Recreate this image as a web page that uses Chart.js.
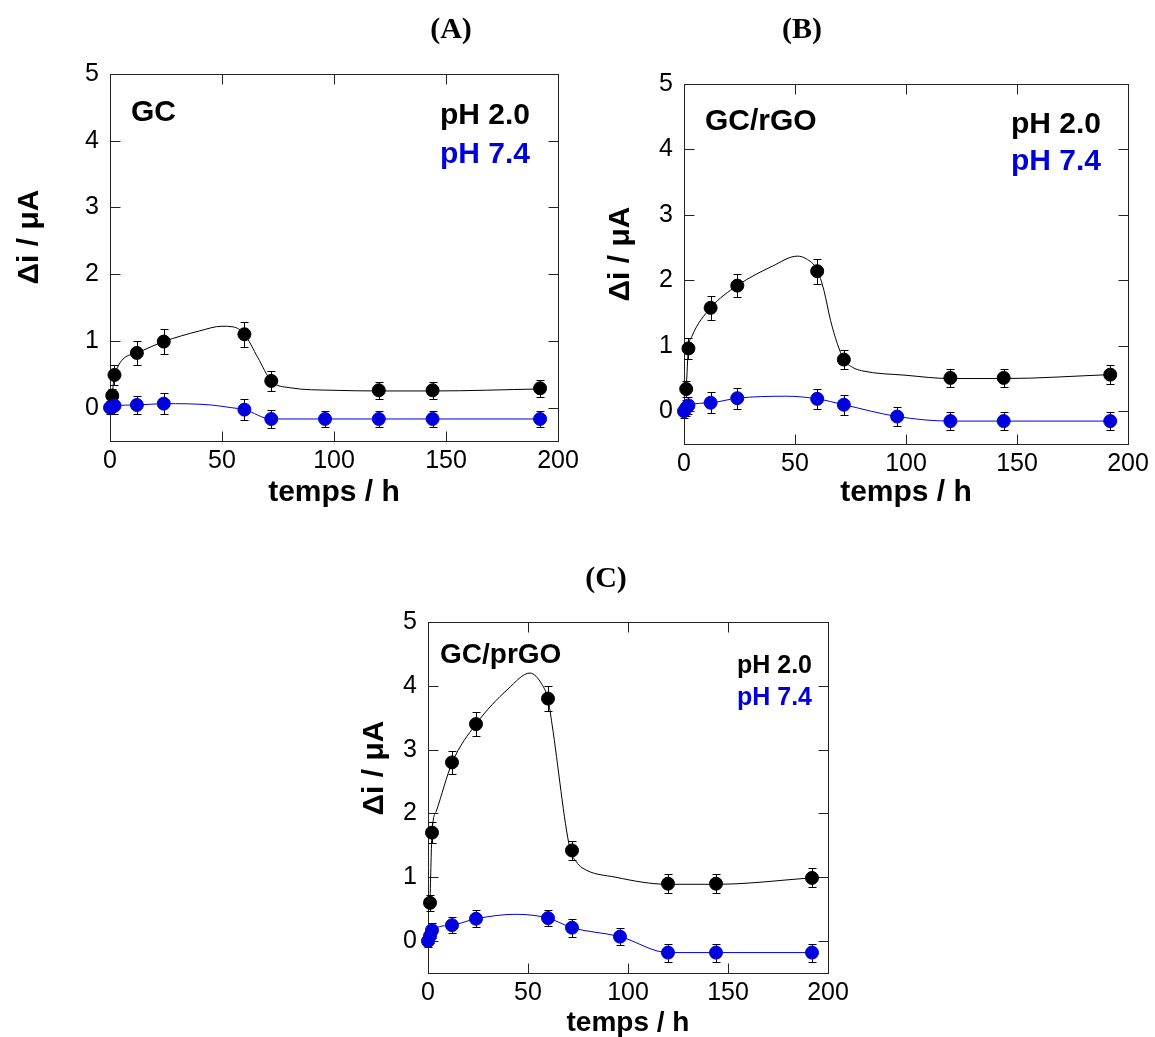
<!DOCTYPE html>
<html>
<head>
<meta charset="utf-8">
<script src="https://cdn.jsdelivr.net/npm/chart.js@4.4.1/dist/chart.umd.min.js"></script>
<style>
html,body{margin:0;padding:0;background:#fff;}
body{width:1155px;height:1037px;position:relative;overflow:hidden;}
.panel{position:absolute;}
canvas{display:block;}
</style>
</head>
<body>
<div class="panel" style="left:0px;top:0px;width:600px;height:520px"><canvas id="cA" width="600" height="520"></canvas></div>
<div class="panel" style="left:600px;top:0px;width:555px;height:520px"><canvas id="cB" width="555" height="520"></canvas></div>
<div class="panel" style="left:330px;top:540px;width:540px;height:497px"><canvas id="cC" width="540" height="497"></canvas></div>
<script>
// ---------- data ----------
const hoursPH2  = [1, 2, 12, 24, 60, 72, 120, 144, 192];
const hoursPH74 = [0, 1, 2, 12, 24, 60, 72, 96, 120, 144, 192];
const xTickValues = [0, 50, 100, 150, 200];
const yTickValues = [0, 1, 2, 3, 4, 5];

// (A) GC
const gcPH2     = [0.18, 0.49, 0.82, 0.99, 1.10, 0.40, 0.26, 0.26, 0.29];
const gcPH2Err  = [0.10, 0.15, 0.18, 0.19, 0.19, 0.15, 0.13, 0.13, 0.13];
const gcPH74    = [0.00, 0.01, 0.03, 0.04, 0.06, -0.03, -0.17, -0.17, -0.17, -0.17, -0.17];
const gcPH74Err = [0.10, 0.11, 0.12, 0.13, 0.16, 0.16, 0.13, 0.12, 0.12, 0.12, 0.12];
const gcFitPH2X  = [1, 2, 12, 24, 40, 50, 55, 60, 66, 72, 80, 100, 120, 144, 192];
const gcFitPH2Y  = [0.18, 0.49, 0.82, 0.99, 1.15, 1.22, 1.21, 1.10, 0.75, 0.40, 0.30, 0.26, 0.25, 0.25, 0.28];
const gcFitPH74X = [0, 2, 12, 24, 45, 54, 60, 72, 96, 120, 144, 192];
const gcFitPH74Y = [0.00, 0.03, 0.04, 0.06, 0.04, 0.00, -0.03, -0.17, -0.17, -0.17, -0.17, -0.17];

// (B) GC/rGO
const rgoPH2     = [0.34, 0.96, 1.58, 1.92, 2.14, 0.79, 0.51, 0.51, 0.56];
const rgoPH2Err  = [0.12, 0.16, 0.18, 0.18, 0.19, 0.15, 0.14, 0.14, 0.14];
const rgoPH74    = [0.00, 0.05, 0.09, 0.13, 0.20, 0.19, 0.10, -0.08, -0.15, -0.15, -0.15];
const rgoPH74Err = [0.10, 0.12, 0.13, 0.16, 0.16, 0.15, 0.15, 0.14, 0.14, 0.14, 0.14];
const rgoFitPH2X  = [1, 2, 3.5, 12, 24, 40, 51, 55, 60, 63, 66, 69, 72, 76, 80, 100, 120, 144, 192];
const rgoFitPH2Y  = [0.34, 0.96, 1.14, 1.58, 1.92, 2.22, 2.37, 2.33, 2.16, 1.85, 1.39, 1.04, 0.79, 0.67, 0.62, 0.55, 0.50, 0.50, 0.56];
const rgoFitPH74X = [0, 2, 12, 24, 46, 60, 72, 96, 120, 144, 192];
const rgoFitPH74Y = [0.00, 0.09, 0.13, 0.20, 0.23, 0.19, 0.10, -0.08, -0.15, -0.15, -0.15];

// (C) GC/prGO
const prgoPH2     = [0.60, 1.70, 2.80, 3.40, 3.80, 1.42, 0.90, 0.90, 0.99];
const prgoPH2Err  = [0.13, 0.16, 0.18, 0.19, 0.20, 0.15, 0.15, 0.15, 0.15];
const prgoPH74    = [0.00, 0.08, 0.17, 0.25, 0.35, 0.36, 0.21, 0.07, -0.18, -0.18, -0.18];
const prgoPH74Err = [0.10, 0.11, 0.12, 0.12, 0.13, 0.13, 0.14, 0.13, 0.14, 0.14, 0.14];
const prgoFitPH2X  = [1, 2, 4.2, 12, 24, 40, 51, 57, 60, 62, 71, 74, 77, 94, 120, 144, 192];
const prgoFitPH2Y  = [0.60, 1.70, 2.04, 2.79, 3.40, 3.95, 4.20, 4.02, 3.79, 3.40, 1.44, 1.25, 1.15, 1.00, 0.89, 0.89, 0.99];
const prgoFitPH74X = [0, 1, 2, 12, 24, 44, 60, 72, 96, 120, 144, 192];
const prgoFitPH74Y = [0.00, 0.08, 0.17, 0.25, 0.35, 0.42, 0.36, 0.21, 0.07, -0.18, -0.18, -0.18];

// ---------- styling ----------
const SANS = '"Liberation Sans", Arial, Helvetica, sans-serif';
const SERIF = '"Liberation Serif", "Times New Roman", serif';
const BLUE = '#0000dd';

function toXY(xs, ys) { return xs.map((x, i) => ({x: x, y: ys[i]})); }

const panelPlugin = {
  id: 'panelDeco',
  beforeDatasetsDraw(chart) {
    const {ctx, chartArea: a, scales: {x, y}} = chart;
    const L = Math.round(a.left) + 0.5, R = Math.round(a.right) + 0.5;
    const T = Math.round(a.top) + 0.5, B = Math.round(a.bottom) + 0.5;
    ctx.save();
    ctx.strokeStyle = '#222';
    ctx.lineWidth = 1;
    ctx.strokeRect(L, T, R - L, B - T);
    const tl = 10;
    ctx.beginPath();
    xTickValues.forEach(v => {
      const px = Math.round(x.getPixelForValue(v)) + 0.5;
      ctx.moveTo(px, B); ctx.lineTo(px, B - tl);
      ctx.moveTo(px, T); ctx.lineTo(px, T + tl);
    });
    yTickValues.forEach(v => {
      const py = Math.round(y.getPixelForValue(v)) + 0.5;
      ctx.moveTo(L, py); ctx.lineTo(L + tl, py);
      ctx.moveTo(R, py); ctx.lineTo(R - tl, py);
    });
    ctx.stroke();
    ctx.restore();
  },
  beforeDatasetDraw(chart, args) {
    const ds = chart.data.datasets[args.index];
    if (!ds.errors) return;
    const {ctx, scales: {x, y}} = chart;
    ctx.save();
    ctx.strokeStyle = '#000';
    ctx.lineWidth = 1;
    ctx.beginPath();
    ds.data.forEach((p, i) => {
      const e = ds.errors[i];
      const px = Math.round(x.getPixelForValue(p.x)) + 0.5;
      const y1 = Math.round(y.getPixelForValue(p.y + e)) + 0.5;
      const y2 = Math.round(y.getPixelForValue(p.y - e)) + 0.5;
      ctx.moveTo(px, y1); ctx.lineTo(px, y2);
      ctx.moveTo(px - 4, y1); ctx.lineTo(px + 4, y1);
      ctx.moveTo(px - 4, y2); ctx.lineTo(px + 4, y2);
    });
    ctx.stroke();
    ctx.restore();
  },
  afterDraw(chart, args, opts) {
    const ctx = chart.ctx;
    (opts.items || []).forEach(it => {
      ctx.save();
      ctx.font = it.font;
      ctx.fillStyle = it.color || '#000';
      ctx.textAlign = it.align || 'left';
      ctx.textBaseline = it.baseline || 'alphabetic';
      ctx.translate(it.x, it.y);
      if (it.rotate) ctx.rotate(it.rotate);
      ctx.fillText(it.text, 0, 0);
      ctx.restore();
    });
  }
};

function makePanel(id, cfg) {
  const lineBase = {showLine: true, pointRadius: 0, borderWidth: 1, cubicInterpolationMode: 'monotone', clip: false, order: 2};
  const ptBase = {showLine: false, pointRadius: 6.5, pointBorderWidth: 1, clip: false};
  new Chart(document.getElementById(id), {
    type: 'scatter',
    data: {
      datasets: [
        Object.assign({}, lineBase, {label: 'fit pH 2.0', data: toXY(cfg.fit2X, cfg.fit2Y), borderColor: '#000'}),
        Object.assign({}, lineBase, {label: 'fit pH 7.4', data: toXY(cfg.fit74X, cfg.fit74Y), borderColor: BLUE}),
        Object.assign({}, ptBase, {label: 'pH 2.0', data: toXY(hoursPH2, cfg.ph2), errors: cfg.ph2Err,
          backgroundColor: '#000', borderColor: '#000', pointBackgroundColor: '#000', pointBorderColor: '#000', order: 1}),
        Object.assign({}, ptBase, {label: 'pH 7.4', data: toXY(hoursPH74, cfg.ph74), errors: cfg.ph74Err,
          backgroundColor: BLUE, borderColor: BLUE, pointBackgroundColor: BLUE, pointBorderColor: BLUE, order: 0})
      ]
    },
    options: {
      responsive: false,
      animation: false,
      devicePixelRatio: 1,
      events: [],
      layout: {padding: {left: 0, top: cfg.top, right: cfg.right, bottom: 0}},
      plugins: {
        legend: {display: false},
        tooltip: {enabled: false},
        panelDeco: {items: cfg.items}
      },
      scales: {
        x: {
          type: 'linear', min: 0, max: 200,
          grid: {display: false, drawTicks: false},
          border: {display: false},
          afterBuildTicks: s => { s.ticks = xTickValues.map(v => ({value: v})); },
          afterFit: s => { s.height = cfg.xH; },
          ticks: {color: '#000', font: {family: SANS, size: 25}, padding: 5, maxRotation: 0, autoSkip: false}
        },
        y: {
          type: 'linear', min: -0.5, max: 5,
          grid: {display: false, drawTicks: false},
          border: {display: false},
          afterBuildTicks: s => { s.ticks = yTickValues.map(v => ({value: v})); },
          afterFit: s => { s.width = cfg.yW; },
          ticks: {color: '#000', font: {family: SANS, size: 25}, padding: 11, autoSkip: false}
        }
      }
    },
    plugins: [panelPlugin]
  });
}

const B30 = 'bold 30px ' + SANS;
const B28 = 'bold 28px ' + SANS;
const B25 = 'bold 25px ' + SANS;
const HEAD = 'bold 30px ' + SERIF;

makePanel('cA', {
  top: 74, right: 42, xH: 79, yW: 110,
  ph2: gcPH2, ph2Err: gcPH2Err, ph74: gcPH74, ph74Err: gcPH74Err,
  fit2X: gcFitPH2X, fit2Y: gcFitPH2Y, fit74X: gcFitPH74X, fit74Y: gcFitPH74Y,
  items: [
    {text: '(A)', x: 451, y: 38, font: HEAD, align: 'center'},
    {text: 'GC', x: 131, y: 121, font: B30},
    {text: 'pH 2.0', x: 530, y: 124, font: B30, align: 'right'},
    {text: 'pH 7.4', x: 530, y: 163, font: B30, align: 'right', color: BLUE},
    {text: 'Δi / μA', x: 30, y: 237, font: B30, align: 'center', baseline: 'middle', rotate: -Math.PI / 2},
    {text: 'temps / h', x: 334, y: 501, font: B30, align: 'center'}
  ]
});

makePanel('cB', {
  top: 84, right: 27, xH: 76, yW: 84,
  ph2: rgoPH2, ph2Err: rgoPH2Err, ph74: rgoPH74, ph74Err: rgoPH74Err,
  fit2X: rgoFitPH2X, fit2Y: rgoFitPH2Y, fit74X: rgoFitPH74X, fit74Y: rgoFitPH74Y,
  items: [
    {text: '(B)', x: 202, y: 38, font: HEAD, align: 'center'},
    {text: 'GC/rGO', x: 105, y: 130, font: B30},
    {text: 'pH 2.0', x: 501, y: 133, font: B30, align: 'right'},
    {text: 'pH 7.4', x: 501, y: 170, font: B30, align: 'right', color: BLUE},
    {text: 'Δi / μA', x: 21, y: 254, font: B30, align: 'center', baseline: 'middle', rotate: -Math.PI / 2},
    {text: 'temps / h', x: 306, y: 501, font: B30, align: 'center'}
  ]
});

makePanel('cC', {
  top: 82, right: 42, xH: 64, yW: 98,
  ph2: prgoPH2, ph2Err: prgoPH2Err, ph74: prgoPH74, ph74Err: prgoPH74Err,
  fit2X: prgoFitPH2X, fit2Y: prgoFitPH2Y, fit74X: prgoFitPH74X, fit74Y: prgoFitPH74Y,
  items: [
    {text: '(C)', x: 276, y: 47, font: HEAD, align: 'center'},
    {text: 'GC/prGO', x: 110, y: 123, font: B28},
    {text: 'pH 2.0', x: 482, y: 133, font: B25, align: 'right'},
    {text: 'pH 7.4', x: 482, y: 165, font: B25, align: 'right', color: BLUE},
    {text: 'Δi / μA', x: 45, y: 228, font: B30, align: 'center', baseline: 'middle', rotate: -Math.PI / 2},
    {text: 'temps / h', x: 298, y: 491, font: B28, align: 'center'}
  ]
});
</script>
</body>
</html>
